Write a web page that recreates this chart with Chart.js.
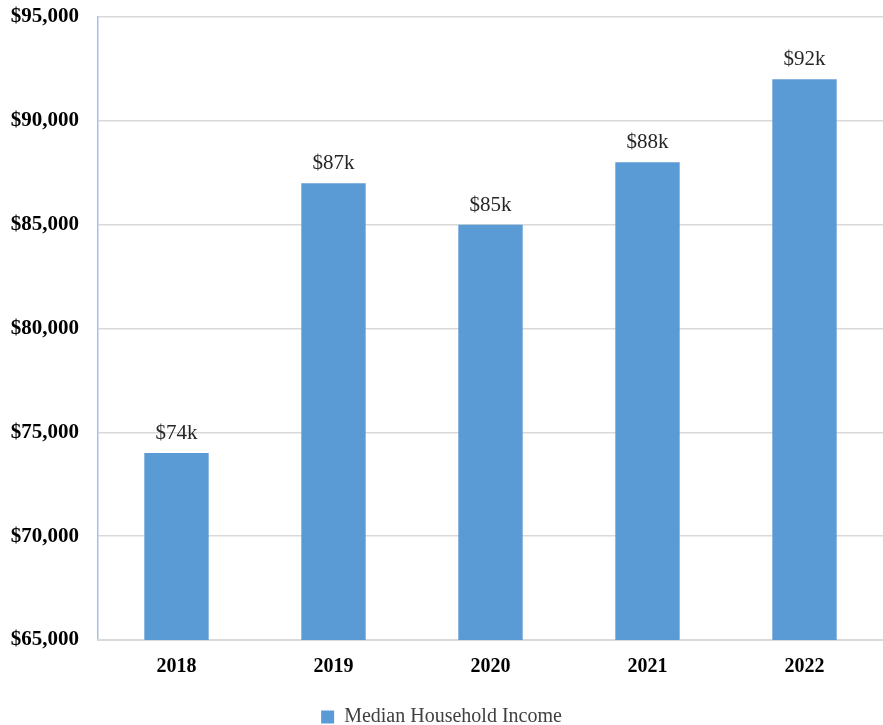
<!DOCTYPE html>
<html>
<head>
<meta charset="utf-8">
<script src="https://cdn.jsdelivr.net/npm/chart.js@4"></script>
<style>
  html, body { margin: 0; padding: 0; background: #fff; }
  #wrap { width: 883px; height: 725px; }
</style>
</head>
<body>
<div id="wrap"><canvas id="incomeChart"></canvas></div>
<script>
// Chart data
const years = ['2018', '2019', '2020', '2021', '2022'];
const incomes = [74000, 87000, 85000, 88000, 92000];
const barLabels = ['$74k', '$87k', '$85k', '$88k', '$92k'];
const yTicks = [65000, 70000, 75000, 80000, 85000, 90000, 95000];

const serif = "'Liberation Serif', 'DejaVu Serif', serif";

// Draw value labels above each bar
const valueLabels = {
    id: 'valueLabels',
    afterDatasetsDraw(chart) {
        const ctx = chart.ctx;
        const meta = chart.getDatasetMeta(0);
        ctx.save();
        ctx.font = '21px ' + serif;
        ctx.fillStyle = '#262626';
        ctx.textAlign = 'center';
        ctx.textBaseline = 'bottom';
        meta.data.forEach((bar, i) => {
            ctx.fillText(barLabels[i], bar.x, bar.y - 9);
        });
        ctx.restore();
    }
};

const ctx = document.getElementById('incomeChart').getContext('2d');
new Chart(ctx, {
    type: 'bar',
    data: {
        labels: years,
        datasets: [{
            label: 'Median Household Income',
            data: incomes,
            backgroundColor: '#5B9BD5',
            borderWidth: 0,
            categoryPercentage: 1,
            barPercentage: 0.41
        }]
    },
    options: {
        responsive: true,
        maintainAspectRatio: false,
        animation: false,
        layout: { padding: { top: 0, left: 0, right: 0, bottom: -12 } },
        scales: {
            y: {
                min: 65000,
                max: 95000,
                afterBuildTicks(axis) {
                    axis.ticks = yTicks.map(v => ({ value: v }));
                },
                afterFit(scale) {
                    // fixed axis width so the plot starts where the reference does
                    scale.width = 98;
                    scale.paddingTop = 17;
                },
                grid: { color: '#D9D9D9', lineWidth: 1.5, drawTicks: false },
                border: { color: '#9DC3E6', width: 1.5 },
                ticks: {
                    padding: 19,
                    color: '#000',
                    font: { family: serif, size: 21, weight: 'bold' },
                    callback: v => '$' + v.toLocaleString('en-US')
                }
            },
            x: {
                grid: { display: false, drawTicks: false },
                border: { color: '#D9D9D9', width: 2 },
                ticks: {
                    padding: 15,
                    color: '#000',
                    font: { family: serif, size: 20, weight: 'bold' }
                }
            }
        },
        plugins: {
            legend: {
                position: 'bottom',
                labels: {
                    boxWidth: 13,
                    boxHeight: 13,
                    padding: 13,
                    color: '#404040',
                    font: { family: serif, size: 20 }
                }
            },
            tooltip: { enabled: false }
        }
    },
    plugins: [valueLabels]
});
</script>
</body>
</html>
